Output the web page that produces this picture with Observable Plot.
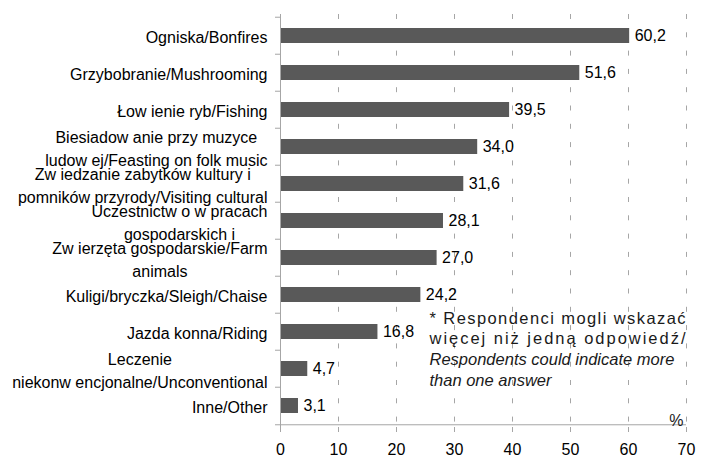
<!DOCTYPE html>
<html><head><meta charset="utf-8">
<script src="https://cdn.jsdelivr.net/npm/d3@7"></script>
<script src="https://cdn.jsdelivr.net/npm/@observablehq/plot@0.6"></script>
<style>
html,body{margin:0;padding:0;background:#fff;}
#chart svg{display:block;}
</style></head><body><div id="chart"></div>
<script>
const categories = [
  "Ogniska/Bonfires",
  "Grzybobranie/Mushrooming",
  "Łow ienie ryb/Fishing",
  "Biesiadow anie przy muzyce\nludow ej/Feasting on folk music",
  "Zw iedzanie zabytków kultury i\npomników przyrody/Visiting cultural",
  "Uczestnictw o w pracach\ngospodarskich i",
  "Zw ierzęta gospodarskie/Farm\nanimals",
  "Kuligi/bryczka/Sleigh/Chaise",
  "Jazda konna/Riding",
  "Leczenie\nniekonw encjonalne/Unconventional",
  "Inne/Other"
];
const values = [60.2, 51.6, 39.5, 34.0, 31.6, 28.1, 27.0, 24.2, 16.8, 4.7, 3.1];
const xTicks = [0, 10, 20, 30, 40, 50, 60, 70];
const noteLines = [
  "* Respondenci mogli wskazać",
  "więcej niż jedną odpowiedź/",
  "Respondents could indicate more",
  "than one answer"
];
const noteItalic = [false, false, true, true];
const unitLabel = "%";

const W = 707, H = 458;
const mL = 280, mR = 21, mT = 14, mB = 31;
const step = (H - mT - mB) / categories.length;
const FONT = "'Liberation Sans', Arial, Helvetica, sans-serif";
const gridColor = "#a6a6a6";
const barColor = "#595959";

const data = categories.map((c, i) => ({c, v: values[i]}));
const fmt = v => v.toFixed(1).replace(".", ",");

const ctx = document.createElement("canvas").getContext("2d");
ctx.font = "16px 'Liberation Sans'";
const labelMarks = categories.map(c => {
  const maxW = d3.max(c.split("\n"), s => ctx.measureText(s).width);
  return Plot.text([c], {
    y: d => d, x: () => 0, text: d => d,
    textAnchor: "middle", lineAnchor: "middle", lineHeight: 23 / 16,
    dx: -(13 + maxW / 2), fontSize: 16, fill: "#000"
  });
});

const noteMarks = noteLines.map((t, i) => Plot.text([t], {
  text: d => d, frameAnchor: "top-left", textAnchor: "start", lineAnchor: "middle",
  dx: 149, dy: 304 + i * 20.7, fontSize: 16.5, fill: "#1a1a1a",
  fontStyle: noteItalic[i] ? "italic" : "normal"
}));

const chart = Plot.plot({
  width: W, height: H,
  marginLeft: mL, marginRight: mR, marginTop: mT, marginBottom: mB,
  style: {fontFamily: FONT, fontSize: "16px", color: "#000", background: "#fff"},
  x: {domain: [0, 70], axis: null},
  y: {domain: categories, paddingInner: 0.584, paddingOuter: 0.292, axis: null},
  marks: [
    Plot.ruleX(xTicks.filter(d => d > 0), {stroke: gridColor, strokeDasharray: "5,13.3"}),
    Plot.barX(data, {x: "v", y: "c", fill: barColor}),
    Plot.text(data, {x: "v", y: "c", text: d => fmt(d.v), textAnchor: "start", dx: 5, fontSize: 16, fill: "#000"}),
    Plot.ruleX([0], {stroke: gridColor}),
    Plot.ruleY(categories, {y: d => d, x1: () => 0, x2: () => 0, insetLeft: -5, dy: -step / 2, stroke: gridColor}),
    Plot.ruleY([categories[categories.length - 1]], {y: d => d, x1: () => 0, x2: () => 0, insetLeft: -5, dy: step / 2, stroke: gridColor}),
    Plot.ruleY([categories[categories.length - 1]], {y: d => d, dy: step / 2, stroke: gridColor}),
    Plot.axisX(xTicks, {anchor: "bottom", tickSize: 5, tickPadding: 11, stroke: gridColor, fill: "#000", fontSize: 16, label: null, tickFormat: d => String(d)}),
    ...labelMarks,
    Plot.text([unitLabel], {text: d => d, frameAnchor: "bottom-right", textAnchor: "end", lineAnchor: "bottom", dx: -3, dy: -2, fontSize: 16, fill: "#1a1a1a"}),
    ...noteMarks
  ]
});
document.getElementById("chart").appendChild(chart);

[0, 1].forEach(i => {
  d3.select(chart).selectAll("text")
    .filter(function() { return this.textContent === noteLines[i]; })
    .attr("textLength", 256).attr("lengthAdjust", "spacing");
});
</script>
</body></html>
